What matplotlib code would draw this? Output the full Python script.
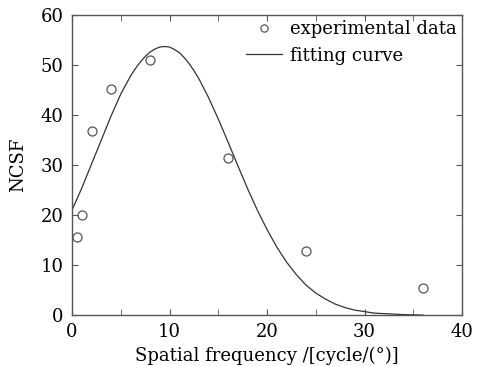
import matplotlib
matplotlib.use('Agg')
import matplotlib.pyplot as plt
from matplotlib.ticker import MultipleLocator

# measured points
freq = [0.5, 1, 2, 4, 8, 16, 24, 36]
ncsf = [15.7, 20.0, 36.8, 45.3, 51.0, 31.4, 12.9, 5.5]

# fitting curve
fit_freq = [0, 1, 2, 3, 4, 5, 6, 6.5, 7, 7.5, 8, 8.5, 9, 9.5, 10, 10.5,
            11, 11.5, 12, 12.5, 13, 14, 15, 16, 17, 18, 19, 20, 21, 22,
            23, 24, 25, 26, 27, 28, 29, 30, 31, 32, 33, 34, 35, 36]
fit_ncsf = [21.0, 25.4, 30.2, 35.0, 39.8, 44.2, 47.8, 49.3, 50.6, 51.7,
            52.6, 53.2, 53.6, 53.7, 53.6, 53.1, 52.5, 51.5, 50.3, 48.9,
            47.3, 43.5, 39.2, 34.6, 29.9, 25.3, 21.0, 17.1, 13.6, 10.6,
            8.1, 6.0, 4.4, 3.2, 2.2, 1.5, 1.0, 0.7, 0.4, 0.3, 0.2, 0.1,
            0.05, 0.0]

plt.rcParams['font.family'] = 'DejaVu Serif'
gray = '#555555'

fig = plt.figure(figsize=(4.9, 3.66), dpi=100)
ax = fig.add_axes([0.147, 0.139, 0.796, 0.820])

ax.plot(freq, ncsf, 'o', mfc='none', mec=gray, ms=6.5, mew=0.9,
        label='experimental data')
ax.plot(fit_freq, fit_ncsf, '-', color='#333333', lw=0.9,
        label='fitting curve')

ax.set_xlim(0, 40)
ax.set_ylim(0, 60)
ax.xaxis.set_major_locator(MultipleLocator(10))
ax.xaxis.set_minor_locator(MultipleLocator(5))
ax.yaxis.set_major_locator(MultipleLocator(10))
ax.tick_params(which='both', direction='in', top=True, right=True,
               color=gray, labelsize=13, length=4, pad=6)
ax.tick_params(which='minor', length=4)
for s in ax.spines.values():
    s.set_color(gray)
    s.set_linewidth(1.0)

ax.set_xlabel('Spatial frequency /[cycle/(°)]', fontsize=13, labelpad=4)
ax.set_ylabel('NCSF', fontsize=13, labelpad=10)

ax.legend(loc='upper right', frameon=False, fontsize=13, handlelength=2.0,
          handletextpad=0.45, borderaxespad=0.1, labelspacing=0.45,
          borderpad=0.2, markerscale=0.8)

fig.savefig('out.png', dpi=100)
